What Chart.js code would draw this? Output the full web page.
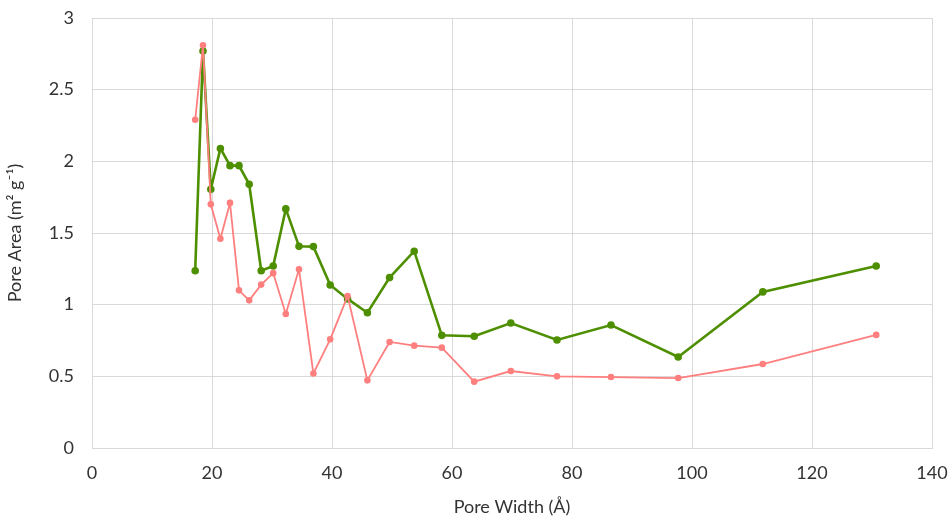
<!DOCTYPE html>
<html>
<head>
<meta charset="utf-8">
<title>Pore Area vs Pore Width</title>
<script src="https://cdn.jsdelivr.net/npm/chart.js@4"></script>
<style>
  body { margin: 0; background: #fff; }
  #wrap { width: 952px; height: 522px; }
</style>
</head>
<body>
<div id="wrap"><canvas id="poreChart" width="952" height="522"></canvas></div>
<script>
// pore width (Å), shared by both series
const poreWidth = [17.2, 18.5, 19.8, 21.4, 23.0, 24.5, 26.2, 28.2, 30.2, 32.3, 34.5, 36.9, 39.7,
  42.6, 45.9, 49.6, 53.7, 58.3, 63.7, 69.8, 77.5, 86.5, 97.7, 111.8, 130.7];

const areaRed = [2.29, 2.81, 1.70, 1.46, 1.71, 1.10, 1.03, 1.14, 1.22, 0.935, 1.247, 0.52, 0.758,
  1.06, 0.472, 0.74, 0.714, 0.70, 0.463, 0.537, 0.50, 0.495, 0.488, 0.586, 0.789];

const areaGreen = [1.237, 2.77, 1.805, 2.09, 1.97, 1.97, 1.84, 1.237, 1.27, 1.668, 1.407, 1.405, 1.137,
  1.04, 0.944, 1.189, 1.373, 0.786, 0.78, 0.872, 0.754, 0.858, 0.635, 1.089, 1.27];

const xTicks = [0, 20, 40, 60, 80, 100, 120, 140];
const yTicks = [0, 0.5, 1, 1.5, 2, 2.5, 3];

function toPoints(ys) {
  return poreWidth.map((x, i) => ({ x: x, y: ys[i] }));
}

const fontFamily = "Lato, 'Open Sans', sans-serif";
const gridColor = '#d9d9d9';

// keep the plot box fixed, labels may spill into the outer padding
function noAutoPadding(axis) {
  axis.paddingTop = 0;
  axis.paddingBottom = 0;
  axis.paddingLeft = 0;
  axis.paddingRight = 0;
}

new Chart(document.getElementById('poreChart'), {
  type: 'line',
  data: {
    datasets: [
      {
        label: 'Series 1',
        data: toPoints(areaRed),
        borderColor: '#ff7f7f',
        backgroundColor: '#ff7f7f',
        borderWidth: 1.8,
        pointRadius: 2.4,
        pointHoverRadius: 2.4,
        tension: 0
      },
      {
        label: 'Series 2',
        data: toPoints(areaGreen),
        borderColor: '#4e8f00',
        backgroundColor: '#4e8f00',
        borderWidth: 2.6,
        pointRadius: 2.5,
        pointHoverRadius: 2.5,
        tension: 0
      }
    ]
  },
  options: {
    responsive: false,
    animation: false,
    layout: { padding: { top: 18, right: 20, left: 0, bottom: 0 } },
    plugins: { legend: { display: false }, tooltip: { enabled: false } },
    scales: {
      x: {
        type: 'linear',
        min: 0, max: 140,
        afterBuildTicks: axis => { axis.ticks = xTicks.map(v => ({ value: v })); },
        grid: { color: gridColor, drawTicks: false },
        border: { color: gridColor },
        ticks: { color: '#333', font: { family: fontFamily, size: 18 }, padding: 14 },
        title: { display: true, text: 'Pore Width (Å)', color: '#333',
          font: { family: fontFamily, size: 18 }, padding: { top: 8 } },
        afterFit: axis => { axis.height = 74; noAutoPadding(axis); }
      },
      y: {
        min: 0, max: 3,
        afterBuildTicks: axis => { axis.ticks = yTicks.map(v => ({ value: v })); },
        grid: { color: gridColor, drawTicks: false },
        border: { color: gridColor },
        ticks: { color: '#333', font: { family: fontFamily, size: 18 }, padding: 18,
          callback: v => String(v) },
        title: { display: true, text: 'Pore Area (m² g⁻¹)', color: '#333',
          font: { family: fontFamily, size: 18 }, padding: { bottom: 0 } },
        afterFit: axis => { axis.width = 92; noAutoPadding(axis); }
      }
    }
  }
});
</script>
</body>
</html>
